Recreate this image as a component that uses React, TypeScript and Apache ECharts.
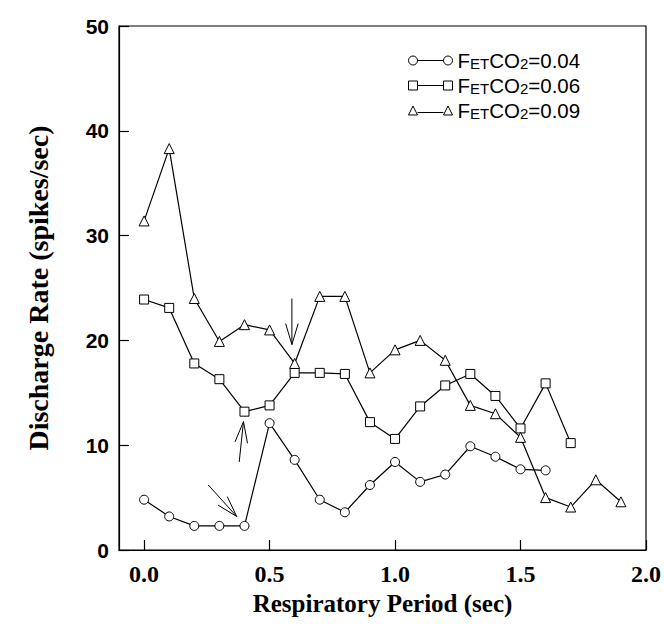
import React, { useEffect, useRef } from "react";
import * as echarts from "echarts";

// Respiratory period (sec)
const periods = [0.0, 0.1, 0.2, 0.3, 0.4, 0.5, 0.6, 0.7, 0.8, 0.9, 1.0, 1.1, 1.2, 1.3, 1.4, 1.5, 1.6, 1.7, 1.8, 1.9];

// Discharge rate (spikes/sec)
const rate004 = [4.8, 3.2, 2.3, 2.3, 2.3, 12.1, 8.6, 4.8, 3.6, 6.2, 8.4, 6.5, 7.2, 9.9, 8.9, 7.7, 7.6];
const rate006 = [23.9, 23.1, 17.8, 16.3, 13.2, 13.8, 16.9, 16.9, 16.8, 12.2, 10.6, 13.7, 15.7, 16.8, 14.7, 11.6, 15.9, 10.2];
const rate009 = [31.4, 38.3, 24.0, 19.9, 21.5, 21.0, 17.8, 24.2, 24.2, 16.9, 19.1, 20.0, 18.1, 13.8, 13.0, 10.75, 5.0, 4.1, 6.7, 4.6];

const seriesNames = ["FETCO2=0.04", "FETCO2=0.06", "FETCO2=0.09"];
const xTickValues = [0.0, 0.5, 1.0, 1.5, 2.0];

// annotation arrows: [xTail, yTail, xTip, yTip] in data units
const arrows = [
  [0.589, 24.0, 0.589, 19.6],
  [0.379, 8.4, 0.396, 12.25],
  [0.256, 6.2, 0.369, 3.2],
];

const iconCircle =
  "path://M0,4.5 A4.5,4.5 0 1,1 9,4.5 A4.5,4.5 0 1,1 0,4.5 Z M9,4.5 L35,4.5 M35,4.5 A4.5,4.5 0 1,1 44,4.5 A4.5,4.5 0 1,1 35,4.5 Z";
const iconSquare =
  "path://M0,0 L9,0 L9,9 L0,9 Z M9,4.5 L35,4.5 M35,0 L44,0 L44,9 L35,9 Z";
const iconTriangle =
  "path://M0,9 L4.5,0 L9,9 Z M9,6.5 L35,6.5 M35,9 L39.5,0 L44,9 Z";

const toPairs = (vals: number[]) => vals.map((v, i) => [periods[i], v]);

export default function App() {
  const ref = useRef<HTMLDivElement>(null);

  useEffect(() => {
    if (!ref.current) return;
    const chart = echarts.init(ref.current, undefined, { renderer: "svg" });

    const lineSeries = (name: string, vals: number[], symbol: string, size: number) => ({
      name,
      type: "line",
      data: toPairs(vals),
      symbol,
      symbolSize: size,
      showAllSymbol: true,
      lineStyle: { color: "#000", width: 1.2 },
      itemStyle: { color: "#fff", borderColor: "#000", borderWidth: 1 },
      z: 3,
    });

    chart.setOption({
      animation: false,
      backgroundColor: "#fff",
      grid: {
        left: 119,
        right: 15,
        top: 26,
        bottom: 86,
        show: true,
        borderColor: "#000",
        borderWidth: 1.2,
        backgroundColor: "transparent",
      },
      legend: {
        orient: "vertical",
        left: 403,
        top: 45,
        itemWidth: 44,
        itemHeight: 9,
        itemGap: 4,
        selectedMode: false,
        data: [
          { name: seriesNames[0], icon: iconCircle },
          { name: seriesNames[1], icon: iconSquare },
          { name: seriesNames[2], icon: iconTriangle },
        ],
        itemStyle: { color: "#fff", borderColor: "#000", borderWidth: 1 },
        formatter: (name: string) => {
          const val = name.split("=")[1];
          return `{m|F}{s|ET}{m|CO}{s|2}{m|=${val}}`;
        },
        textStyle: {
          color: "#000",
          fontFamily: "Liberation Sans",
          fontSize: 20,
          lineHeight: 20,
          rich: {
            m: { fontFamily: "Liberation Sans", fontSize: 20.5, lineHeight: 20, color: "#000", verticalAlign: "middle" },
            s: { fontFamily: "Liberation Sans", fontSize: 15, lineHeight: 15, color: "#000", verticalAlign: "bottom" },
          },
        },
      },
      xAxis: {
        type: "value",
        min: -0.1,
        max: 2.0,
        name: "Respiratory Period (sec)",
        nameLocation: "middle",
        nameGap: 39,
        nameTextStyle: { fontFamily: "Liberation Serif", fontWeight: "bold", fontSize: 25, color: "#000" },
        axisLine: { show: true, onZero: false, lineStyle: { color: "#000", width: 1.2 } },
        axisTick: { show: true, inside: true, length: 10, customValues: xTickValues, lineStyle: { color: "#000", width: 1.2 } },
        axisLabel: {
          customValues: xTickValues,
          formatter: (v: number) => v.toFixed(1),
          fontFamily: "Liberation Serif",
          fontWeight: "bold",
          fontSize: 24,
          color: "#000",
          margin: 12,
        },
        splitLine: { show: false },
      },
      yAxis: {
        type: "value",
        min: 0,
        max: 50,
        interval: 10,
        name: "Discharge Rate (spikes/sec)",
        nameLocation: "middle",
        nameGap: 67,
        nameTextStyle: { fontFamily: "Liberation Serif", fontWeight: "bold", fontSize: 28, color: "#000" },
        axisLine: { show: true, onZero: false, lineStyle: { color: "#000", width: 1.2 } },
        axisTick: { show: true, inside: true, length: 10, lineStyle: { color: "#000", width: 1.2 } },
        axisLabel: {
          fontFamily: "Liberation Sans",
          fontWeight: "bold",
          fontSize: 21,
          color: "#000",
          margin: 10,
        },
        splitLine: { show: false },
      },
      series: [
        lineSeries(seriesNames[0], rate004, "circle", 9),
        lineSeries(seriesNames[1], rate006, "rect", 9),
        lineSeries(seriesNames[2], rate009, "triangle", 10),
        {
          type: "custom",
          silent: true,
          z: 2,
          data: arrows,
          encode: { x: [0, 2], y: [1, 3] },
          renderItem: (_params: any, api: any) => {
            const p1 = api.coord([api.value(0), api.value(1)]);
            const p2 = api.coord([api.value(2), api.value(3)]);
            const ang = Math.atan2(p2[1] - p1[1], p2[0] - p1[0]);
            const L = 22;
            const a = 0.29;
            const h1 = [p2[0] - L * Math.cos(ang - a), p2[1] - L * Math.sin(ang - a)];
            const h2 = [p2[0] - L * Math.cos(ang + a), p2[1] - L * Math.sin(ang + a)];
            return {
              type: "group",
              children: [
                { type: "line", shape: { x1: p1[0], y1: p1[1], x2: p2[0], y2: p2[1] }, style: { stroke: "#000", lineWidth: 1 } },
                { type: "polyline", shape: { points: [h1, p2, h2] }, style: { stroke: "#000", fill: "none", lineWidth: 1 } },
              ],
            };
          },
        },
      ],
    });

    return () => chart.dispose();
  }, []);

  return (
    <div
      ref={ref}
      style={{ position: "fixed", left: 0, top: 0, width: 664, height: 636, background: "#fff" }}
    />
  );
}
